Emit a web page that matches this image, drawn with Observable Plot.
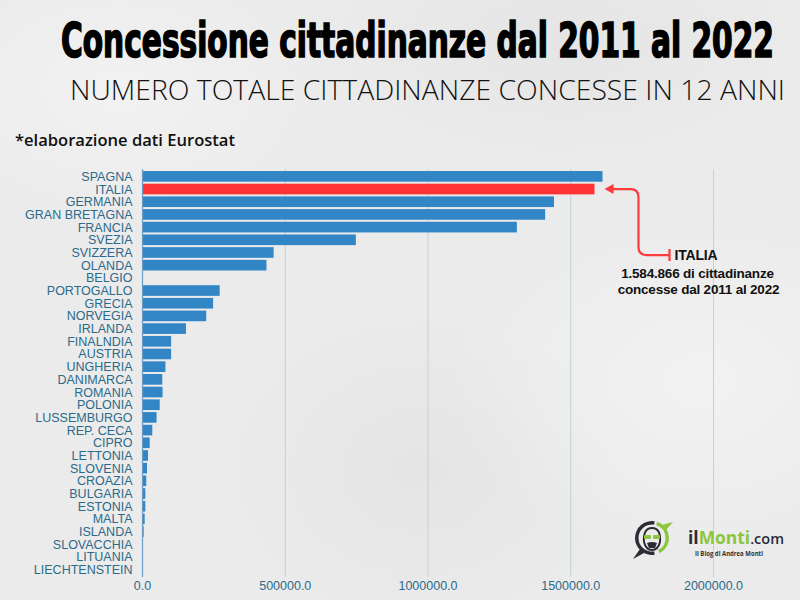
<!DOCTYPE html>
<html><head><meta charset="utf-8">
<script src="https://cdn.jsdelivr.net/npm/d3@7"></script>
<script src="https://cdn.jsdelivr.net/npm/@observablehq/plot@0.6"></script>
<style>
html,body{margin:0;padding:0;background:#ebebeb;}
#wrap{position:relative;width:800px;height:600px;overflow:hidden;background:#ebebeb;
 background-image:
  radial-gradient(ellipse 220px 140px at 120px 90px, rgba(255,255,255,0.35), rgba(255,255,255,0)),
  radial-gradient(ellipse 260px 180px at 700px 380px, rgba(255,255,255,0.35), rgba(255,255,255,0)),
  radial-gradient(ellipse 200px 160px at 420px 470px, rgba(210,210,210,0.25), rgba(210,210,210,0)),
  radial-gradient(ellipse 240px 120px at 560px 40px, rgba(215,215,215,0.3), rgba(215,215,215,0));}
#head{position:absolute;left:0;top:0;}
#chart{position:absolute;left:0;top:160px;}
#logo{position:absolute;left:620px;top:505px;}
</style></head><body>
<div id="wrap">
<svg id="head" width="800" height="160"></svg>
<div id="chart"></div>
<svg id="logo" width="180" height="60"></svg>
</div>
<script>
const titleText = "Concessione cittadinanze dal 2011 al 2022";
const subtitleText = "NUMERO TOTALE CITTADINANZE CONCESSE IN 12 ANNI";
const noteText = "*elaborazione dati Eurostat";

const countries = ["SPAGNA","ITALIA","GERMANIA","GRAN BRETAGNA","FRANCIA","SVEZIA","SVIZZERA","OLANDA","BELGIO","PORTOGALLO","GRECIA","NORVEGIA","IRLANDA","FINALNDIA","AUSTRIA","UNGHERIA","DANIMARCA","ROMANIA","POLONIA","LUSSEMBURGO","REP. CECA","CIPRO","LETTONIA","SLOVENIA","CROAZIA","BULGARIA","ESTONIA","MALTA","ISLANDA","SLOVACCHIA","LITUANIA","LIECHTENSTEIN"];
const values = [1613000,1584866,1443000,1412000,1313000,749000,461000,436000,0,272000,249000,225000,154000,102000,102000,82000,71000,72000,62000,51000,36000,27000,21000,17500,15000,11600,11500,9300,5800,3500,1500,1000];
const highlight = "ITALIA";
const xTicks = [0,500000,1000000,1500000,2000000];
const annoLines = ["ITALIA","1.584.866 di cittadinanze","concesse dal 2011 al 2022"];

const data = countries.map((c,i)=>({country:c, value:values[i]}));

// header
const head = d3.select("#head");
head.append("text").attr("x",61).attr("y",38).attr("transform","scale(1,1.5)").attr("textLength",713).attr("lengthAdjust","spacingAndGlyphs")
  .style("font-family","'Liberation Sans Narrow','DejaVu Sans Condensed',sans-serif").style("font-weight","700").style("font-size","32px")
  .attr("fill","#000").attr("stroke","#000").attr("stroke-width",1.1).text(titleText);
head.append("text").attr("x",70).attr("y",100).attr("textLength",715).attr("lengthAdjust","spacingAndGlyphs")
  .style("font-family","'Open Sans',sans-serif").style("font-weight","300").style("font-size","28px")
  .attr("fill","#111").text(subtitleText);
head.append("text").attr("x",15).attr("y",146).attr("textLength",220).attr("lengthAdjust","spacingAndGlyphs")
  .style("font-family","'Open Sans',sans-serif").style("font-weight","600").style("font-size","16px")
  .attr("fill","#111").text(noteText);

const plot = Plot.plot({
  width: 800, height: 440,
  marginLeft: 142, marginRight: 87, marginTop: 9, marginBottom: 23,
  style: {background: "transparent", fontFamily: "'Liberation Sans', Arial, sans-serif", fontSize: "12.5px", color: "#2b6a89", overflow: "visible"},
  x: {domain: [0, 2000000], ticks: xTicks, tickFormat: d => d.toFixed(1), tickSize: 0, tickPadding: 4, label: null},
  y: {domain: countries, padding: 0.16, round: false, tickSize: 0, tickPadding: 10, label: null},
  marks: [
    Plot.gridX(xTicks, {stroke: "#c2d2dd", strokeOpacity: 1, strokeWidth: 1}),
    Plot.barX(data.filter(d => d.country !== highlight), {x: "value", y: "country", fill: "#3286c6"}),
    Plot.barX(data.filter(d => d.country === highlight), {x: "value", y: "country", fill: "#ff3333"}),
    Plot.ruleX([0], {stroke: "#6a9cc4", strokeWidth: 1.2})
  ]
});
document.getElementById("chart").appendChild(plot);

// annotation anchored to the ITALIA bar via the plot's scales
const xs = plot.scale("x"), ys = plot.scale("y");
const itVal = values[countries.indexOf(highlight)];
const tipX = xs.apply(itVal) + 10;
const tipY = ys.apply(highlight) + ys.bandwidth / 2;
const svg = d3.select(plot);
const g = svg.append("g").attr("text-anchor","start");
const red = "#ff3b3b";
const vx = tipX + 34, endX = tipX + 65, lowY = tipY + 66;
g.append("path").attr("fill","none").attr("stroke",red).attr("stroke-width",2.2)
  .attr("d",`M${tipX+7},${tipY} L${vx-8},${tipY} Q${vx},${tipY} ${vx},${tipY+8} L${vx},${lowY-8} Q${vx},${lowY} ${vx+8},${lowY} L${endX},${lowY}`);
g.append("path").attr("fill",red).attr("d",`M${tipX},${tipY} L${tipX+9},${tipY-5} L${tipX+9},${tipY+5} Z`);
g.append("line").attr("stroke",red).attr("stroke-width",2.2).attr("x1",endX).attr("x2",endX).attr("y1",lowY-6).attr("y2",lowY+6);
const tf = "'Liberation Sans', Arial, sans-serif";
g.append("text").attr("x",endX+5).attr("y",lowY+5).attr("text-anchor","start").attr("fill","#111").style("font-family",tf).style("font-weight","700").style("font-size","14px").style("letter-spacing","-0.2px").text(annoLines[0]);
g.append("text").attr("x",tipX+93).attr("y",lowY+23).attr("text-anchor","middle").attr("fill","#111").style("font-family",tf).style("font-weight","700").style("font-size","13.5px").style("letter-spacing","-0.2px").text(annoLines[1]);
g.append("text").attr("x",tipX+94).attr("y",lowY+39).attr("text-anchor","middle").attr("fill","#111").style("font-family",tf).style("font-weight","700").style("font-size","13.5px").style("letter-spacing","-0.2px").text(annoLines[2]);

// logo
const logo = d3.select("#logo");
const cx = 32, cy = 33, r = 17;
const dark = "#2b2b36", green = "#8cc63e";
const arc = d3.arc();
logo.append("path").attr("transform",`translate(${cx},${cy})`).attr("fill",dark)
  .attr("d", arc({innerRadius:r-3.5,outerRadius:r,startAngle:Math.PI*0.95,endAngle:Math.PI*2.05}));
logo.append("path").attr("transform",`translate(${cx},${cy})`).attr("fill",green)
  .attr("d", arc({innerRadius:r-3.5,outerRadius:r,startAngle:Math.PI*0.1,endAngle:Math.PI*0.85}));
logo.append("path").attr("fill",dark).attr("d",`M${cx-12},${cy+11} L${cx-19},${cy+21} L${cx-8},${cy+15} Z`);
logo.append("path").attr("fill",green).attr("d",`M${cx+10},${cy-13} L${cx+21},${cy-16} L${cx+14},${cy-8} Z`);
logo.append("path").attr("fill","none").attr("stroke",dark).attr("stroke-width",2)
  .attr("d",`M${cx-8},${cy+4} Q${cx-9},${cy-10} ${cx},${cy-10} Q${cx+9},${cy-10} ${cx+8},${cy+4} Q${cx+6},${cy+12} ${cx},${cy+12} Q${cx-6},${cy+12} ${cx-8},${cy+4}`);
logo.append("rect").attr("x",cx-8).attr("y",cy-3).attr("width",7).attr("height",4).attr("rx",1).attr("fill",green);
logo.append("rect").attr("x",cx+1).attr("y",cy-3).attr("width",7).attr("height",4).attr("rx",1).attr("fill",green);
logo.append("path").attr("fill",dark).attr("d",`M${cx-5},${cy+5} Q${cx},${cy+3} ${cx+5},${cy+5} L${cx+3},${cy+10} L${cx-3},${cy+10} Z`);
const lt = logo.append("text").attr("x",68).attr("y",39).attr("textLength",96).attr("lengthAdjust","spacingAndGlyphs").style("font-family","'Open Sans',sans-serif").style("font-weight","700").style("font-size","18px");
lt.append("tspan").attr("fill",dark).text("il");
lt.append("tspan").attr("fill",green).text("Monti");
lt.append("tspan").attr("fill",dark).style("font-weight","600").style("font-size","15px").text(".com");
logo.append("text").attr("x",75).attr("y",51).attr("textLength",68).attr("lengthAdjust","spacingAndGlyphs").attr("fill","#333").style("font-family","'Open Sans',sans-serif").style("font-weight","700").style("font-size","7px").text("Il Blog di Andrea Monti");
</script>
</body></html>
